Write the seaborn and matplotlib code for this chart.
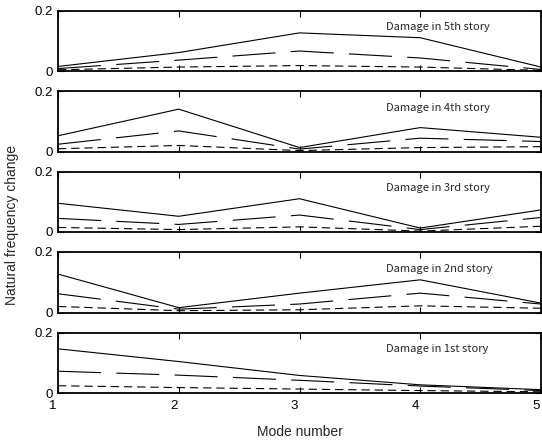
import matplotlib
matplotlib.use("Agg")
import matplotlib.pyplot as plt
from matplotlib.transforms import ScaledTranslation
import numpy as np
import pandas as pd
import seaborn as sns

# ---------------- data ----------------
modes = [1, 2, 3, 4, 5]
x_tick_labels = ["1", "2", "3", "4", "5"]
y_tick_values = [0, 0.2]
y_tick_labels = ["0", "0.2"]
panel_titles = ["Damage in 5th story", "Damage in 4th story", "Damage in 3rd story",
                "Damage in 2nd story", "Damage in 1st story"]

# solid line (largest damage)
large_5th = [0.015, 0.061, 0.126, 0.110, 0.013]
large_4th = [0.052, 0.140, 0.013, 0.079, 0.047]
large_3rd = [0.095, 0.052, 0.110, 0.013, 0.073]
large_2nd = [0.127, 0.016, 0.064, 0.108, 0.031]
large_1st = [0.146, 0.104, 0.058, 0.027, 0.011]

# long dashed line (medium damage)
medium_5th = [0.008, 0.036, 0.066, 0.043, 0.005]
medium_4th = [0.024, 0.068, 0.008, 0.044, 0.033]
medium_3rd = [0.045, 0.025, 0.056, 0.008, 0.048]
medium_2nd = [0.062, 0.011, 0.028, 0.064, 0.028]
medium_1st = [0.072, 0.059, 0.042, 0.023, 0.008]

# short dashed line (small damage)
small_5th = [0.004, 0.013, 0.018, 0.013, 0.002]
small_4th = [0.009, 0.020, 0.003, 0.013, 0.016]
small_3rd = [0.015, 0.008, 0.017, 0.003, 0.019]
small_2nd = [0.020, 0.006, 0.009, 0.022, 0.014]
small_1st = [0.024, 0.018, 0.013, 0.008, 0.004]

large = [large_5th, large_4th, large_3rd, large_2nd, large_1st]
medium = [medium_5th, medium_4th, medium_3rd, medium_2nd, medium_1st]
small = [small_5th, small_4th, small_3rd, small_2nd, small_1st]

# ---------------- style ----------------
sns.set_style("ticks")
plt.rcParams["font.family"] = ["Liberation Sans", "DejaVu Sans"]
plt.rcParams["lines.scale_dashes"] = False

W, H = 542, 441
fig = plt.figure(figsize=(W / 100, H / 100), dpi=100)

left_px, right_px = 58, 541
panel_h = 60.5
pitch = 80.5
top0 = 10.5

axes = []
for i in range(5):
    top_px = top0 + pitch * i
    bottom_px = top_px + panel_h
    ax = fig.add_axes([left_px / W, 1 - bottom_px / H,
                       (right_px - left_px) / W, panel_h / H])
    axes.append(ax)

    sns.lineplot(x=modes, y=large[i], ax=ax, color="black", linewidth=0.8,
                 linestyle="-")
    sns.lineplot(x=modes, y=medium[i], ax=ax, color="black", linewidth=0.8,
                 linestyle=(0, (31, 11)))
    sns.lineplot(x=modes, y=small[i], ax=ax, color="black", linewidth=0.8,
                 linestyle=(0, (6, 3.5)))

    ax.set_xlim(1, 5)
    ax.set_ylim(0, 0.2)
    ax.set_xticks(modes)
    ax.set_yticks(y_tick_values)
    ax.set_yticklabels(y_tick_labels)
    ax.tick_params(axis="both", direction="in", length=4, width=0.8,
                   top=True, right=True, labelsize=9.5, colors="black")
    ax.tick_params(axis="y", pad=3.5)
    ax.tick_params(axis="x", pad=5)
    if i == 4:
        ax.set_xticklabels(x_tick_labels)
        shift = ScaledTranslation(-5 / 100, 0, fig.dpi_scale_trans)
        for lab in ax.get_xticklabels():
            lab.set_transform(lab.get_transform() + shift)
    else:
        ax.set_xticklabels([])
    for s in ax.spines.values():
        s.set_visible(True)
        s.set_linewidth(1.3)
        s.set_color("black")
    ax.set_xlabel("")
    ax.set_ylabel("")
    ax.text(0.68, 0.72, panel_titles[i], transform=ax.transAxes,
            ha="left", va="center", fontsize=8,
            family=["Noto Sans CJK JP", "DejaVu Sans"])

fig.text(12 / W, 1 - 225 / H, "Natural frequency change", rotation=90,
         ha="center", va="center", fontsize=10)
fig.text(300 / W, 1 - 432 / H, "Mode number", ha="center", va="center",
         fontsize=10)

fig.savefig("out.png", dpi=100)
